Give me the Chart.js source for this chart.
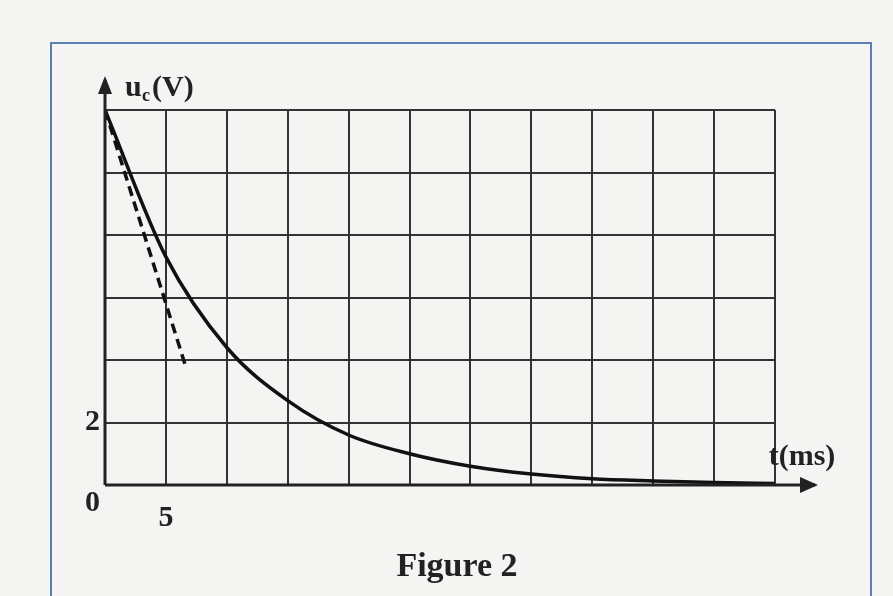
<!DOCTYPE html>
<html><head><meta charset="utf-8">
<script src="https://cdn.jsdelivr.net/npm/chart.js@4"></script>
<style>
html,body{margin:0;padding:0;background:#f4f4f2;width:893px;height:596px;overflow:hidden}
#frame{position:absolute;left:50px;top:42px;width:822px;height:570px;border:2px solid #5b7fb0;box-sizing:border-box}
canvas{position:absolute;left:0;top:0}
</style></head><body>
<div id="frame"></div>
<canvas id="c" width="893" height="596"></canvas>
<script>
const times = [0,5,10,15,20,25,30,35,40,45,50,55];
const uc = [12,7.3,4.4,2.7,1.6,1.0,0.6,0.35,0.2,0.13,0.08,0.05];
const tangentT = [0,6.7];
const tangentU = [12,3.7];
const yTickLabels = [{v:0,t:'0'},{v:2,t:'2'}];
const xTickLabels = [{v:5,t:'5'}];

const font = 'bold 30px "Liberation Serif"';
const deco = {
  id:'deco',
  afterDraw(ch){
    const c=ch.ctx, x=ch.scales.x, y=ch.scales.y;
    const x0=x.getPixelForValue(0), y0=y.getPixelForValue(0);
    c.save(); c.strokeStyle='#222'; c.fillStyle='#222'; c.lineWidth=3;
    c.beginPath(); c.moveTo(x0,y0); c.lineTo(815,y0); c.stroke();
    c.beginPath(); c.moveTo(818,y0); c.lineTo(800,y0-8); c.lineTo(800,y0+8); c.closePath(); c.fill();
    c.beginPath(); c.moveTo(x0,y0); c.lineTo(x0,80); c.stroke();
    c.beginPath(); c.moveTo(x0,76); c.lineTo(x0-7,94); c.lineTo(x0+7,94); c.closePath(); c.fill();
    c.font=font; c.textBaseline='middle';
    c.textAlign='right';
    yTickLabels.forEach(l=>c.fillText(l.t,x0-5,y.getPixelForValue(l.v)+(l.v===0?18:0)));
    c.textAlign='center';
    xTickLabels.forEach(l=>c.fillText(l.t,x.getPixelForValue(l.v),y0+33));
    c.textAlign='left';
    c.fillText('u',125,88);
    c.font='bold 18px "Liberation Serif"'; c.fillText('c',142,96);
    c.font=font; c.fillText('(V)',152,88);
    c.textAlign='center';
    c.fillText('t(ms)',802,457);
    c.font='bold 34px "Liberation Serif"';
    c.fillText('Figure 2',457,567);
    c.restore();
  }
};
new Chart(document.getElementById('c'),{
  type:'line',
  data:{datasets:[
    {data:times.map((t,i)=>({x:t,y:uc[i]})),borderColor:'#111',borderWidth:3.5,pointRadius:0,cubicInterpolationMode:'monotone'},
    {data:tangentT.map((t,i)=>({x:t,y:tangentU[i]})),borderColor:'#111',borderWidth:3.5,borderDash:[10,6],pointRadius:0}
  ]},
  options:{responsive:false,animation:false,
    layout:{padding:{left:105,right:118,top:110,bottom:111}},
    plugins:{legend:{display:false},tooltip:{enabled:false}},
    scales:{
      x:{type:'linear',min:0,max:55,ticks:{display:false,stepSize:5},grid:{color:'#333',lineWidth:2,drawTicks:false},border:{display:false}},
      y:{min:0,max:12,ticks:{display:false,stepSize:2},grid:{color:'#333',lineWidth:2,drawTicks:false},border:{display:false}}
    }},
  plugins:[deco]
});
</script></body></html>
